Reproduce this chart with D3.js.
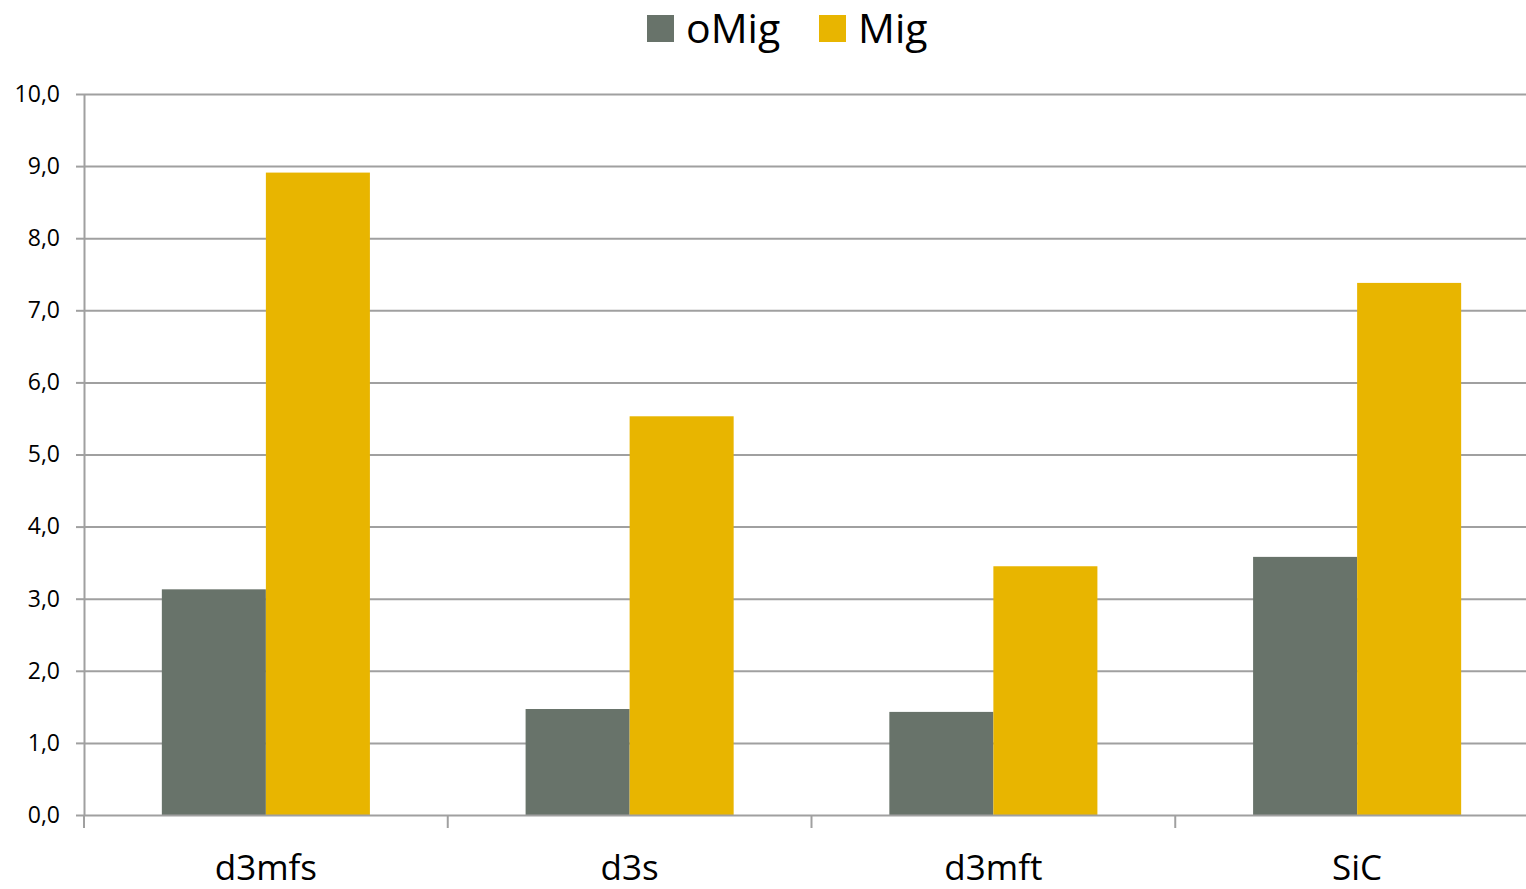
<!DOCTYPE html>
<html>
<head>
<meta charset="utf-8">
<script src="https://cdn.jsdelivr.net/npm/d3@7"></script>
<style>
  html, body { margin: 0; padding: 0; background: #fff; }
  svg { display: block; font-family: "Open Sans", "Noto Sans", sans-serif; }
</style>
</head>
<body>
<svg id="chart" width="1526" height="889"></svg>
<script>
// Values per material for each series
const categories = ["d3mfs", "d3s", "d3mft", "SiC"];
const seriesNames = ["oMig", "Mig"];
const oMig = [3.13, 1.47, 1.43, 3.58];
const Mig = [8.91, 5.53, 3.45, 7.38];
const yTicks = [0, 1, 2, 3, 4, 5, 6, 7, 8, 9, 10];
const colors = ["#68736A", "#E8B500"];

const svg = d3.select("#chart");
const plotLeft = 84, plotRight = 1539, plotTop = 94, plotBottom = 815;

const x = d3.scaleBand().domain(categories).range([plotLeft, plotRight]).paddingInner(0).paddingOuter(0);
const xSub = d3.scaleBand().domain(seriesNames).range([0, x.bandwidth() * 0.572]).padding(0);
const y = d3.scaleLinear().domain([0, 10]).range([plotBottom, plotTop]);

const fmt = v => d3.format(".1f")(v).replace(".", ",");

// Horizontal gridlines
svg.append("g").selectAll("line").data(yTicks.slice(1)).join("line")
  .attr("x1", plotLeft).attr("x2", 1526)
  .attr("y1", d => y(d) + 0.5).attr("y2", d => y(d) + 0.5)
  .attr("stroke", "#a0a0a0").attr("stroke-width", 2);

// Bars
const rows = categories.map((c, i) => ({ c, vals: [oMig[i], Mig[i]] }));
const groupOffset = (x.bandwidth() - xSub.range()[1]) / 2;
const g = svg.append("g").selectAll("g").data(rows).join("g")
  .attr("transform", d => `translate(${x(d.c) + groupOffset},0)`);
g.selectAll("rect").data(d => d.vals.map((v, k) => ({ v, k }))).join("rect")
  .attr("x", d => xSub(seriesNames[d.k]))
  .attr("width", xSub.bandwidth())
  .attr("y", d => y(d.v))
  .attr("height", d => y(0) - y(d.v))
  .attr("fill", d => colors[d.k]);

// Y axis
const yAxis = d3.axisLeft(y).tickValues(yTicks).tickFormat(fmt).tickSize(8).tickSizeOuter(0);
const ya = svg.append("g").attr("transform", `translate(${plotLeft},0)`).call(yAxis);
ya.select(".domain").attr("stroke", "#a0a0a0").attr("stroke-width", 2);
ya.selectAll(".tick line").attr("stroke", "#a0a0a0").attr("stroke-width", 2);
ya.selectAll(".tick text").attr("font-size", 23).attr("fill", "#000").attr("x", -24)
  .attr("font-family", "Open Sans, sans-serif");

// X axis baseline and category ticks
svg.append("line").attr("x1", plotLeft).attr("x2", 1526).attr("y1", plotBottom + 0.5).attr("y2", plotBottom + 0.5)
  .attr("stroke", "#a0a0a0").attr("stroke-width", 2);
svg.append("g").selectAll("line").data(categories).join("line")
  .attr("x1", d => x(d)).attr("x2", d => x(d))
  .attr("y1", plotBottom).attr("y2", plotBottom + 13)
  .attr("stroke", "#a0a0a0").attr("stroke-width", 2);
svg.append("g").selectAll("text").data(categories).join("text")
  .attr("x", d => x(d) + x.bandwidth() / 2)
  .attr("y", 880)
  .attr("text-anchor", "middle")
  .attr("font-size", 35)
  .attr("fill", "#000")
  .text(d => d);

// Legend
const legendItems = [
  { name: seriesNames[0], color: colors[0], sx: 647, tx: 686 },
  { name: seriesNames[1], color: colors[1], sx: 819, tx: 858 }
];
const lg = svg.append("g");
lg.selectAll("rect").data(legendItems).join("rect")
  .attr("x", d => d.sx).attr("y", 15).attr("width", 27).attr("height", 27)
  .attr("fill", d => d.color);
lg.selectAll("text").data(legendItems).join("text")
  .attr("x", d => d.tx).attr("y", 43)
  .attr("font-size", 41).attr("fill", "#000")
  .text(d => d.name);
</script>
</body>
</html>
